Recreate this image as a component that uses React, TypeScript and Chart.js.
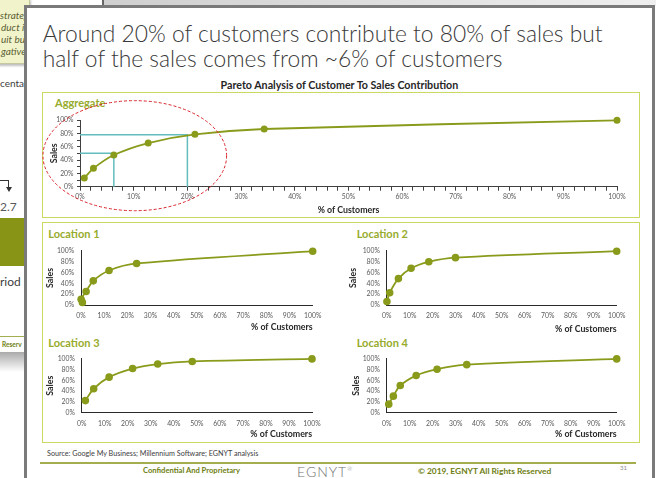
import React, { useEffect, useRef } from "react";
import { Chart, registerables } from "chart.js";

Chart.register(...registerables);

// ---------------- data ----------------
const customerTickValues = [0, 10, 20, 30, 40, 50, 60, 70, 80, 90, 100];
const salesTickValues = [0, 20, 40, 60, 80, 100];

const aggregateCustomers = [0.8, 2.5, 6.3, 12.7, 21.4, 34.3, 100];
const aggregateSales = [13, 27.5, 47.5, 65.5, 78.5, 86.5, 99.5];

const location1Customers = [0.6, 0.05, 2.2, 5.3, 12.1, 24.0, 100];
const location1Sales = [4.8, 10.7, 25, 44.6, 63.7, 76.8, 99.4];

const location2Customers = [0.1, 1.3, 5.1, 10.6, 18.3, 29.9, 100];
const location2Sales = [6.5, 22.6, 48.8, 67.9, 79.8, 87.5, 99.4];

const location3Customers = [1.6, 5.2, 11.9, 22.1, 33.0, 48.0, 100];
const location3Sales = [22.2, 44.3, 65.9, 82.0, 90.4, 95.2, 100];

const location4Customers = [0.9, 2.9, 5.9, 12.8, 21.9, 34.8, 100];
const location4Sales = [15.6, 30.5, 50.3, 68.9, 80.8, 89.2, 100];

// guide lines on the aggregate chart: sales level -> customer share
const markerSalesLevels = [78, 50];
const markerCustomerShares = [20, 6.3];
// highlighted region on the aggregate chart (data units: centre and radii)
const highlightCenter = [10.2, 46.5];
const highlightRadius = [17.1, 82.5];

// ---------------- styles ----------------
const OLIVE = "#8a9b1c";
const TITLE_OLIVE = "#97ab2c";
const FOOTER_OLIVE = "#6e7e12";
const BOX_BORDER = "#cbd963";
const TEAL = "#63bdbd";
const RED = "#d9232b";
const FONT = "Lato, 'Open Sans', sans-serif";
const AXIS_TITLE_SIZE = 8.8;
const TICK_SIZE = 6.8;

type Box = { left: number; top: number; width: number; height: number };
type Frame = { l: number; t: number; r: number; b: number; yTitleX: number; xTitleY: number };

const aggregateOverlay = {
  id: "aggregateOverlay",
  beforeDatasetsDraw(chart: any) {
    const { ctx, scales } = chart;
    const xs = scales.x;
    const ys = scales.y;
    ctx.save();
    ctx.strokeStyle = TEAL;
    ctx.lineWidth = 1.5;
    markerSalesLevels.forEach((level, i) => {
      const share = markerCustomerShares[i];
      ctx.beginPath();
      ctx.moveTo(xs.getPixelForValue(0), ys.getPixelForValue(level));
      ctx.lineTo(xs.getPixelForValue(share), ys.getPixelForValue(level));
      ctx.lineTo(xs.getPixelForValue(share), ys.getPixelForValue(0));
      ctx.stroke();
    });
    ctx.restore();
  },
  afterDraw(chart: any) {
    const { ctx, scales } = chart;
    const cx = scales.x.getPixelForValue(highlightCenter[0]);
    const cy = scales.y.getPixelForValue(highlightCenter[1]);
    const rx = scales.x.getPixelForValue(highlightCenter[0] + highlightRadius[0]) - cx;
    const ry = cy - scales.y.getPixelForValue(highlightCenter[1] + highlightRadius[1]);
    ctx.save();
    ctx.strokeStyle = RED;
    ctx.lineWidth = 1;
    ctx.setLineDash([3, 2]);
    ctx.beginPath();
    ctx.ellipse(cx, cy, rx, ry, 0, 0, Math.PI * 2);
    ctx.stroke();
    ctx.restore();
  },
};

function ParetoChart(props: {
  box: Box;
  frame: Frame;
  xs: number[];
  ys: number[];
  aggregate?: boolean;
}) {
  const { box, frame, xs, ys, aggregate } = props;
  const ref = useRef<HTMLCanvasElement>(null);
  useEffect(() => {
    if (!ref.current) return;
    const lh = AXIS_TITLE_SIZE * 1.2;
    const padLeft = frame.yTitleX - lh / 2 - box.left;
    const yW = frame.l - box.left - padLeft;
    const padTop = frame.t - box.top;
    const padRight = box.left + box.width - frame.r;
    const scaleBottom = frame.xTitleY + lh / 2;
    const xH = scaleBottom - frame.b;
    const padBottom = box.top + box.height - scaleBottom;

    const xMarks: number[] = [];
    const yMarks: number[] = [];
    if (aggregate) {
      for (let v = 0; v <= 100; v += 2) xMarks.push(v);
      for (let v = 0; v <= 100; v += 10) yMarks.push(v);
    }
    const tickFont = { family: FONT, size: TICK_SIZE };
    const titleFont = { family: FONT, size: AXIS_TITLE_SIZE, weight: "bold" as const };
    const axisColor = aggregate ? "#404040" : "#2a2a2a";

    const chart = new Chart(ref.current, {
      type: "scatter",
      data: {
        datasets: [
          {
            data: xs.map((x, i) => ({ x, y: ys[i] })),
            showLine: true,
            borderColor: OLIVE,
            backgroundColor: OLIVE,
            pointBackgroundColor: OLIVE,
            pointBorderColor: OLIVE,
            pointRadius: aggregate ? 2.6 : 2.9,
            borderWidth: 1.8,
            tension: 0.35,
            clip: false,
          } as any,
        ],
      },
      options: {
        responsive: false,
        animation: false,
        devicePixelRatio: 1,
        events: [],
        layout: { padding: { left: padLeft, top: padTop, right: padRight, bottom: padBottom } },
        plugins: { legend: { display: false }, tooltip: { enabled: false }, title: { display: false } },
        scales: {
          x: {
            type: "linear",
            min: 0,
            max: 100,
            afterFit: (s: any) => {
              s.height = xH;
            },
            afterBuildTicks: (s: any) => {
              s.ticks = (aggregate ? xMarks : customerTickValues).map((value) => ({ value }));
            },
            ticks: {
              autoSkip: false,
              maxRotation: 0,
              padding: aggregate ? 2 : 7,
              color: "#595959",
              font: tickFont,
              callback: (v: any) => (customerTickValues.includes(Number(v)) ? `${v}%` : ""),
            },
            grid: {
              display: !!aggregate,
              drawOnChartArea: false,
              drawTicks: !!aggregate,
              tickLength: 4,
              color: axisColor,
            },
            border: { display: true, color: axisColor, width: 1 },
            title: {
              display: true,
              text: "% of Customers",
              align: aggregate ? "center" : "end",
              color: "#262626",
              font: titleFont,
              padding: 0,
            },
          },
          y: {
            type: "linear",
            min: 0,
            max: 100,
            afterFit: (s: any) => {
              s.width = yW;
            },
            afterBuildTicks: (s: any) => {
              s.ticks = (aggregate ? yMarks : salesTickValues).map((value) => ({ value }));
            },
            ticks: {
              autoSkip: false,
              padding: aggregate ? 3.5 : 6.8,
              color: "#595959",
              font: tickFont,
              callback: (v: any) => (salesTickValues.includes(Number(v)) ? `${v}%` : ""),
            },
            grid: {
              display: !!aggregate,
              drawOnChartArea: false,
              drawTicks: !!aggregate,
              tickLength: 3,
              color: axisColor,
            },
            border: { display: true, color: axisColor, width: 1 },
            title: {
              display: true,
              text: "Sales",
              color: "#262626",
              font: titleFont,
              padding: 0,
            },
          },
        },
      } as any,
      plugins: aggregate ? [aggregateOverlay] : [],
    });
    return () => chart.destroy();
  }, []);
  return (
    <canvas
      ref={ref}
      width={box.width}
      height={box.height}
      style={{ position: "absolute", left: box.left, top: box.top, width: box.width, height: box.height }}
    />
  );
}

function Txt(props: {
  x: number;
  y: number;
  size: number;
  children: React.ReactNode;
  style?: React.CSSProperties;
  center?: boolean;
}) {
  const lh = props.size * 1.2;
  return (
    <div
      style={{
        position: "absolute",
        left: props.x,
        top: props.y - lh / 2,
        fontSize: props.size,
        lineHeight: `${lh}px`,
        whiteSpace: "nowrap",
        transform: props.center ? "translateX(-50%)" : undefined,
        ...props.style,
      }}
    >
      {props.children}
    </div>
  );
}

const layout = {
  aggregate: {
    box: { left: 38, top: 93, width: 600, height: 125 },
    frame: { l: 80, t: 120, r: 617, b: 186.7, yTitleX: 53.7, xTitleY: 210 },
  },
  loc1: {
    box: { left: 42, top: 240, width: 292, height: 95 },
    frame: { l: 81, t: 248.3, r: 312.7, b: 305, yTitleX: 50, xTitleY: 327.3 },
  },
  loc2: {
    box: { left: 345, top: 240, width: 293, height: 97 },
    frame: { l: 386.7, t: 248.3, r: 616.7, b: 305, yTitleX: 353, xTitleY: 329 },
  },
  loc3: {
    box: { left: 42, top: 348, width: 292, height: 93 },
    frame: { l: 81.7, t: 356.7, r: 312, b: 412.5, yTitleX: 50, xTitleY: 434.3 },
  },
  loc4: {
    box: { left: 345, top: 348, width: 293, height: 93 },
    frame: { l: 386.7, t: 356.7, r: 616.7, b: 412.5, yTitleX: 356, xTitleY: 434.3 },
  },
};

export default function App() {
  const panelTitle: React.CSSProperties = { color: TITLE_OLIVE, fontWeight: 700 };
  return (
    <div
      style={{
        position: "fixed",
        left: 0,
        top: 0,
        width: 656,
        height: 478,
        overflow: "hidden",
        background: "#fff",
        fontFamily: FONT,
      }}
    >
      {/* ---- slide behind (fragments) ---- */}
      <div
        style={{
          position: "absolute",
          left: 102,
          top: 0,
          width: 554,
          height: 6,
          background: "linear-gradient(90deg,#cfcfcf,#efefef)",
          borderLeft: "2px solid #666",
        }}
      />
      <div
        style={{
          position: "absolute",
          left: -4,
          top: -2,
          width: 32,
          height: 64,
          background: "#f1f3cb",
          border: "1px solid #c5c79c",
          boxShadow: "1px 2px 2px rgba(0,0,0,0.25)",
        }}
      />
      <div style={{ position: "absolute", left: 0, top: 0, width: 24, height: 62, overflow: "hidden" }}>
        {["strateg", "duct i", "uit but", "gative"].map((t, i) => (
          <Txt key={t} x={i === 0 ? 0 : 1} y={15 + i * 11.9} size={10} style={{ fontStyle: "italic", color: "#5b5f34" }}>
            {t}
          </Txt>
        ))}
      </div>
      <div style={{ position: "absolute", left: 0, top: 70, width: 24, height: 30, overflow: "hidden" }}>
        <Txt x={0} y={12.7} size={10} style={{ color: "#404040" }}>
          centag
        </Txt>
      </div>
      <div style={{ position: "absolute", left: 0, top: 180, width: 9, height: 1, background: "#333" }} />
      <div style={{ position: "absolute", left: 8, top: 180, width: 1, height: 8, background: "#333" }} />
      <div
        style={{
          position: "absolute",
          left: 5.5,
          top: 187,
          width: 0,
          height: 0,
          borderLeft: "3px solid transparent",
          borderRight: "3px solid transparent",
          borderTop: "5px solid #333",
        }}
      />
      <Txt x={0} y={207} size={12} style={{ color: "#595959" }}>
        2.7
      </Txt>
      <div style={{ position: "absolute", left: 0, top: 218, width: 24, height: 48, background: "#879416" }} />
      <Txt x={0} y={281.7} size={12} style={{ color: "#404040" }}>
        riod
      </Txt>
      <div style={{ position: "absolute", left: 0, top: 336, width: 24, height: 1, background: "#a3ae50" }} />
      <div style={{ position: "absolute", left: 0, top: 338, width: 24, height: 14, overflow: "hidden" }}>
        <Txt x={2} y={7} size={6.5} style={{ color: FOOTER_OLIVE, fontWeight: 700 }}>
          Reserv
        </Txt>
      </div>
      <div
        style={{
          position: "absolute",
          left: 0,
          top: 352,
          width: 24,
          height: 20,
          background: "linear-gradient(#aaaaaa,#ffffff)",
        }}
      />

      {/* ---- main slide ---- */}
      <div
        style={{
          position: "absolute",
          left: 24,
          top: 5,
          width: 631,
          height: 480,
          boxSizing: "border-box",
          border: "3px solid #7a7a7a",
          borderBottom: "none",
          background: "#fff",
        }}
      />
      <div
        style={{
          position: "absolute",
          left: 42.7,
          top: 21.2,
          fontSize: 22.8,
          fontWeight: 300,
          lineHeight: "25px",
          color: "#3a3a3a",
          whiteSpace: "nowrap",
        }}
      >
        Around 20% of customers contribute to 80% of sales but
        <br />
        half of the sales comes from ~6% of customers
      </div>
      <Txt x={339.4} y={85} size={10.7} center style={{ fontWeight: 700, color: "#262626" }}>
        Pareto Analysis of Customer To Sales Contribution
      </Txt>

      {/* chart frames */}
      <div
        style={{
          position: "absolute",
          left: 42,
          top: 92,
          width: 598,
          height: 126,
          boxSizing: "border-box",
          border: `1.5px solid ${BOX_BORDER}`,
        }}
      />
      <div
        style={{
          position: "absolute",
          left: 42,
          top: 222,
          width: 598,
          height: 221,
          boxSizing: "border-box",
          border: `1.5px solid ${BOX_BORDER}`,
        }}
      />

      <Txt x={55} y={103} size={11} style={panelTitle}>
        Aggregate
      </Txt>
      <Txt x={48.3} y={233.3} size={11} style={panelTitle}>
        Location 1
      </Txt>
      <Txt x={356.7} y={233.3} size={11} style={panelTitle}>
        Location 2
      </Txt>
      <Txt x={48.3} y={342.3} size={11} style={panelTitle}>
        Location 3
      </Txt>
      <Txt x={356.7} y={342.3} size={11} style={panelTitle}>
        Location 4
      </Txt>

      <ParetoChart {...layout.aggregate} xs={aggregateCustomers} ys={aggregateSales} aggregate />
      <ParetoChart {...layout.loc1} xs={location1Customers} ys={location1Sales} />
      <ParetoChart {...layout.loc2} xs={location2Customers} ys={location2Sales} />
      <ParetoChart {...layout.loc3} xs={location3Customers} ys={location3Sales} />
      <ParetoChart {...layout.loc4} xs={location4Customers} ys={location4Sales} />

      {/* footer */}
      <Txt x={47} y={454} size={7.2} style={{ color: "#404040" }}>
        Source: Google My Business; Millennium Software; EGNYT analysis
      </Txt>
      <div style={{ position: "absolute", left: 40, top: 462, width: 596, height: 1.5, background: "#a4ae4e" }} />
      <Txt x={143} y={471} size={7.6} style={{ color: FOOTER_OLIVE, fontWeight: 700 }}>
        Confidential And Proprietary
      </Txt>
      <Txt x={297} y={469} size={14} style={{ color: "#707070", fontWeight: 300, letterSpacing: 1 }}>
        EGNYT<sup style={{ fontSize: 6, letterSpacing: 0 }}>®</sup>
      </Txt>
      <Txt x={418} y={471} size={8.4} style={{ color: FOOTER_OLIVE, fontWeight: 700 }}>
        © 2019, EGNYT All Rights Reserved
      </Txt>
      <Txt x={620} y={468} size={6} style={{ color: "#8c8c8c" }}>
        31
      </Txt>
    </div>
  );
}
